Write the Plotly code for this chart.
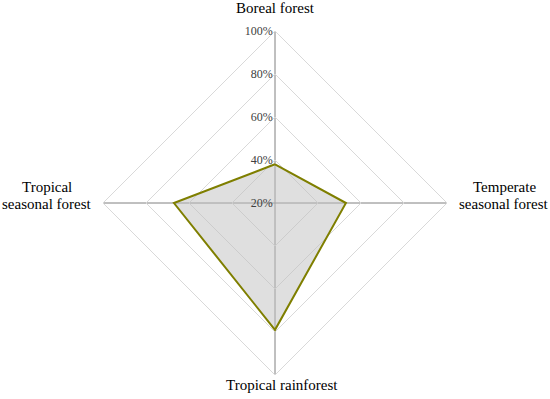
import plotly.graph_objects as go

categories = ["Boreal forest", "Temperate seasonal forest", "Tropical rainforest", "Tropical seasonal forest"]
label_lines = [["Boreal forest"], ["Temperate", "seasonal forest"], ["Tropical rainforest"], ["Tropical", "seasonal forest"]]
values = [38, 53, 79, 67]
tick_vals = [20, 40, 60, 80, 100]
tick_text = ["20%", "40%", "60%", "80%", "100%"]

W, H = 550, 399
cx, cy, R = 275, 203, 172

fig = go.Figure()
fig.add_trace(go.Scatterpolar(
    r=values + values[:1],
    theta=categories + categories[:1],
    mode="lines",
    fill="toself",
    fillcolor="rgba(191,191,191,0.5)",
    line=dict(color="#7f7f00", width=2),
    showlegend=False,
))

# category label anchor points (center x, middle y of first line), line gap
label_pos = [(275.5, 8), (504, 187), (282, 385), (47, 187)]
line_gap = 17
for lines, (px, py) in zip(label_lines, label_pos):
    for i, ln in enumerate(lines):
        fig.add_annotation(
            x=px / W, y=1 - (py + i * line_gap) / H, xref="paper", yref="paper",
            text=ln, showarrow=False, xanchor="center", yanchor="middle",
            font=dict(family="Liberation Serif", size=15, color="#000000"),
        )

fig.update_layout(
    width=W, height=H,
    margin=dict(l=0, r=0, t=0, b=0),
    paper_bgcolor="white",
    plot_bgcolor="white",
    font=dict(family="Liberation Serif", color="#000000"),
    polar=dict(
        domain=dict(x=[(cx - R) / W, (cx + R) / W], y=[1 - (cy + R) / H, 1 - (cy - R) / H]),
        bgcolor="white",
        gridshape="linear",
        radialaxis=dict(
            range=[20, 100],
            tickvals=tick_vals,
            ticktext=tick_text,
            angle=90,
            tickangle=90,
            side="counterclockwise",
            showline=False,
            ticks="",
            gridcolor="#d9d9d9",
            gridwidth=1,
            tickfont=dict(family="Liberation Serif", size=12, color="#404040"),
        ),
        angularaxis=dict(
            rotation=90,
            direction="clockwise",
            showline=True,
            linecolor="#d9d9d9",
            linewidth=1,
            gridcolor="#808080",
            gridwidth=1,
            ticks="",
            showticklabels=False,
        ),
    ),
)
fig.write_html(
    "out.html",
    config={"displayModeBar": False},
    post_script="document.body.style.margin='0';document.body.style.overflow='hidden';",
)
